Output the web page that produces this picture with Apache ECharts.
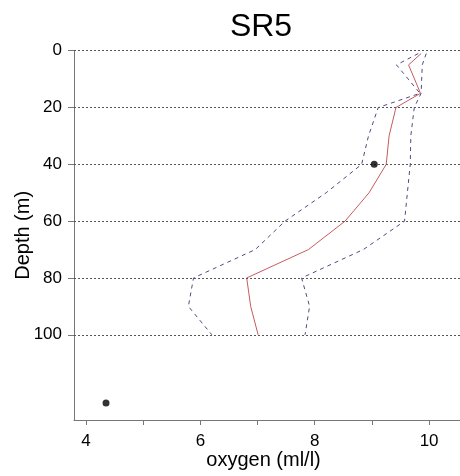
<!DOCTYPE html>
<html><head><meta charset="utf-8">
<script src="https://cdn.jsdelivr.net/npm/echarts@6/dist/echarts.min.js"></script>
<style>html,body{margin:0;padding:0;background:#fff}#c{width:460px;height:476px}</style>
</head><body><div id="c"></div>
<script>
var depths = [1, 5, 15, 20, 30, 40, 50, 60, 70, 80, 90, 100];
var meanOxygen = [9.86, 9.64, 9.85, 9.42, 9.30, 9.25, 8.95, 8.53, 7.89, 6.81, 6.88, 7.01];
var lowerOxygen = [9.81, 9.43, 9.84, 9.11, 8.94, 8.82, 8.20, 7.48, 6.96, 5.88, 5.79, 6.20];
var upperOxygen = [9.95, 9.88, 9.86, 9.74, 9.68, 9.67, 9.62, 9.57, 8.85, 7.77, 7.91, 7.83];
var obsOxygen = [9.04, 4.35];
var obsDepth = [40, 124];
var depthTicks = [0, 20, 40, 60, 80, 100];
var oxyTicks = [4, 5, 6, 7, 8, 9, 10];
var oxyLabels = [4, 6, 8, 10];

function pairs(xs, ys) { return xs.map(function (x, i) { return [x, ys[i]]; }); }
var font = 'Liberation Sans, Arial, sans-serif';
var chart = echarts.init(document.getElementById('c'));
function dashed(name, data) {
  return { name: name, type: 'line', data: data, symbol: 'none', z: 3,
    lineStyle: { color: '#4c4c80', width: 1, type: [4, 4] } };
}
chart.setOption({
  animation: false,
  title: { text: 'SR5', left: 256, top: 6, textAlign: 'center',
    textStyle: { fontFamily: font, fontSize: 32, fontWeight: 'normal', color: '#000' } },
  grid: { left: 74, right: 0, top: 50.7, bottom: 56, outerBoundsMode: 'none', containLabel: false },
  xAxis: {
    type: 'value', min: 3.79, max: 10.54,
    name: 'oxygen (ml/l)', nameLocation: 'middle', nameGap: 30, nameMoveOverlap: false,
    nameTextStyle: { fontFamily: font, fontSize: 20, color: '#000', padding: [0, 7, 0, 0] },
    axisLine: { show: true, onZero: false, lineStyle: { color: '#777', width: 1 } },
    axisTick: { show: true, length: 5, customValues: oxyTicks, lineStyle: { color: '#777' } },
    axisLabel: { customValues: oxyLabels, fontFamily: font, fontSize: 17, color: '#000', margin: 13 },
    splitLine: { show: false }
  },
  yAxis: {
    type: 'value', min: 0, max: 130, inverse: true,
    name: 'Depth (m)', nameLocation: 'middle', nameGap: 41, nameMoveOverlap: false,
    nameTextStyle: { fontFamily: font, fontSize: 20, color: '#000' },
    axisLine: { show: true, lineStyle: { color: '#777', width: 1 } },
    axisTick: { show: true, length: 6, customValues: depthTicks, lineStyle: { color: '#777' } },
    axisLabel: { customValues: depthTicks, fontFamily: font, fontSize: 17, color: '#000', margin: 12 },
    splitLine: { show: false }
  },
  series: [
    { type: 'line', data: [], silent: true,
      markLine: { silent: true, symbol: 'none', label: { show: false },
        lineStyle: { color: '#555', width: 1, type: [2, 2] },
        data: depthTicks.map(function (d) { return { yAxis: d }; }) } },
    dashed('lower', pairs(lowerOxygen, depths)),
    dashed('upper', pairs(upperOxygen, depths)),
    { name: 'mean', type: 'line', data: pairs(meanOxygen, depths), symbol: 'none', z: 4,
      lineStyle: { color: '#c85a60', width: 1 } },
    { name: 'obs', type: 'scatter', data: pairs(obsOxygen, obsDepth), symbolSize: 7, z: 5,
      itemStyle: { color: '#000' } }
  ]
});
</script></body></html>
